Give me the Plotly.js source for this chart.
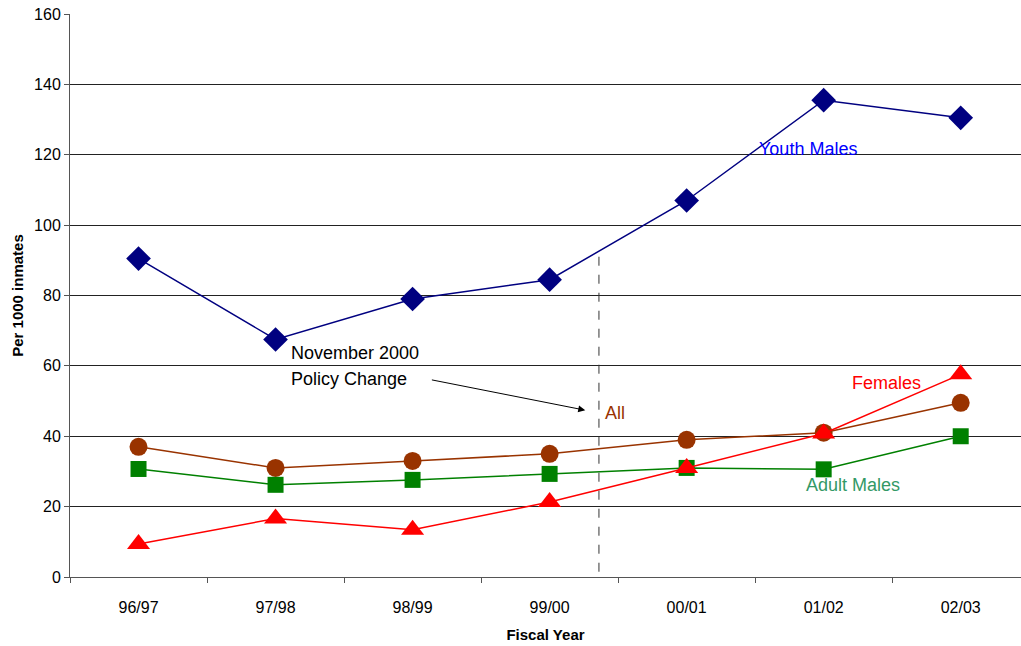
<!DOCTYPE html>
<html>
<head>
<meta charset="utf-8">
<script src="https://cdn.plot.ly/plotly-3.0.1.min.js"></script>
<style>html,body{margin:0;padding:0;background:#fff;}#chart{width:1021px;height:646px;}</style>
</head>
<body>
<div id="chart"></div>
<script>
const years = ["96/97", "97/98", "98/99", "99/00", "00/01", "01/02", "02/03"];
const youthMales = [90.5, 67.5, 79, 84.5, 107, 135.5, 130.5];
const allInmates = [37, 31, 33, 35, 39, 41, 49.5];
const adultMales = [30.7, 26.2, 27.6, 29.3, 31, 30.6, 40];
const females = [9.4, 16.6, 13.4, 21.3, 31, 40.8, 57.6];
const yTicks = [0, 20, 40, 60, 80, 100, 120, 140, 160];

const font = "Liberation Sans, Arial, sans-serif";

const traces = [
  {x: years, y: youthMales, name: "Youth Males", mode: "lines+markers",
   line: {color: "#000080", width: 1.5}, marker: {symbol: "diamond", size: 19, color: "#000080"}},
  {x: years, y: allInmates, name: "All", mode: "lines+markers",
   line: {color: "#993300", width: 1.5}, marker: {symbol: "circle", size: 18, color: "#993300"}},
  {x: years, y: adultMales, name: "Adult Males", mode: "lines+markers",
   line: {color: "#008000", width: 1.5}, marker: {symbol: "square", size: 16, color: "#008000"}},
  {x: years, y: females, name: "Females", mode: "lines+markers",
   line: {color: "#FF0000", width: 1.5}, marker: {symbol: "triangle-up", size: 20, color: "#FF0000"}}
];

const layout = {
  width: 1021, height: 646,
  margin: {l: 70, r: 0, t: 14, b: 69},
  paper_bgcolor: "#fff", plot_bgcolor: "#fff",
  showlegend: false,
  font: {family: font, color: "#000"},
  xaxis: {
    type: "category", categoryorder: "array", categoryarray: years,
    range: [-0.5, 6.44], tickson: "boundaries", ticks: "outside", ticklen: 5,
    tickcolor: "#555", showgrid: false, showline: true, linecolor: "#555", linewidth: 1,
    ticklabelstandoff: 16,
    tickfont: {size: 16, family: font, color: "#000"},
    title: {text: "Fiscal Year", font: {size: 15, family: font, color: "#000", weight: "bold"}, standoff: 14},
    zeroline: false, fixedrange: true
  },
  yaxis: {
    range: [0, 160], tickvals: yTicks, ticks: "outside", ticklen: 5, tickcolor: "#555",
    showgrid: true, gridcolor: "#222", gridwidth: 1, showline: true, linecolor: "#555", linewidth: 1,
    tickfont: {size: 16, family: font, color: "#000"},
    title: {text: "Per 1000 inmates", font: {size: 15, family: font, color: "#000", weight: "bold"}, standoff: 6},
    zeroline: false, fixedrange: true
  },
  shapes: [
    {type: "line", xref: "x", yref: "y", x0: 3.36, x1: 3.36, y0: 1.5, y1: 92,
     line: {color: "#333", width: 1, dash: "dash"}}
  ],
  annotations: [
    {xref: "x", yref: "y", x: 1.1, y: 63.8, text: "November 2000", showarrow: false,
     xanchor: "left", font: {size: 18, family: font, color: "#000"}},
    {xref: "x", yref: "y", x: 1.1, y: 56.4, text: "Policy Change", showarrow: false,
     xanchor: "left", font: {size: 18, family: font, color: "#000"}},
    {xref: "x", yref: "y", ax: 2.13, ay: 56.1, axref: "x", ayref: "y", x: 3.26, y: 47.4,
     text: "", showarrow: true, arrowhead: 2, arrowsize: 1.4, arrowwidth: 1, arrowcolor: "#000"},
    {xref: "x", yref: "y", x: 4.51, y: 121.6, text: "Youth Males", showarrow: false,
     xanchor: "left", font: {size: 18, family: font, color: "#0000FF"}},
    {xref: "x", yref: "y", x: 3.39, y: 46.6, text: "All", showarrow: false,
     xanchor: "left", font: {size: 18, family: font, color: "#993300"}},
    {xref: "x", yref: "y", x: 5.19, y: 55.0, text: "Females", showarrow: false,
     xanchor: "left", font: {size: 18, family: font, color: "#FF0000"}},
    {xref: "x", yref: "y", x: 4.86, y: 26.2, text: "Adult Males", showarrow: false,
     xanchor: "left", font: {size: 18, family: font, color: "#339966"}}
  ]
};

Plotly.newPlot("chart", traces, layout, {displayModeBar: false, staticPlot: true});
</script>
</body>
</html>
